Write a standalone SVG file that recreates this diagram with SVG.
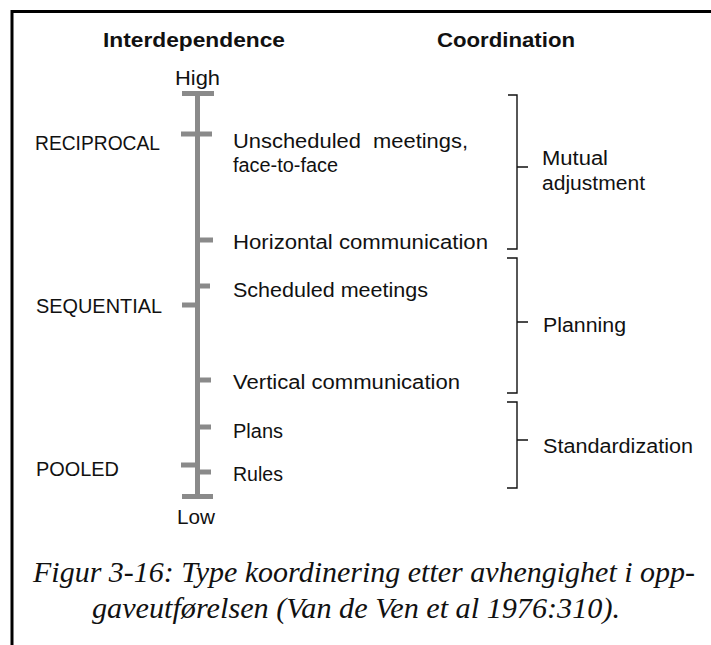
<svg xmlns="http://www.w3.org/2000/svg" width="711" height="645" viewBox="0 0 711 645">
<style>
.lbl{font-family:"Liberation Sans",Arial,sans-serif;font-size:20px;fill:#111}
.hdr{font-family:"Liberation Sans",Arial,sans-serif;font-size:20px;font-weight:bold;fill:#111}
.cap{font-family:"Liberation Serif","Times New Roman",serif;font-size:30px;font-style:italic;fill:#111}
.axis{stroke:#8a8a8a;stroke-width:5;fill:none}
.br{stroke:#111;stroke-width:1.4;fill:none}
</style>
<rect width="711" height="645" fill="#fff"/>
<path d="M12,645 V11.5 H711" stroke="#000" stroke-width="3" fill="none"/>
<g id="headers">
<text class="hdr" x="103" y="47" textLength="182" lengthAdjust="spacingAndGlyphs">Interdependence</text>
<text class="hdr" x="437" y="47" textLength="138" lengthAdjust="spacingAndGlyphs">Coordination</text>
</g>
<g id="axis">
<path class="axis" d="M197.5,93.5 V496.5 M182,93.5 H214 M182,496.5 H213 M181,134 H212 M197.5,240 H213 M197.5,286 H210 M182,305 H197.5 M197.5,380 H211 M197.5,427 H211 M181,465 H197.5 M197.5,472 H211"/>
<text class="lbl" x="175" y="85" textLength="45" lengthAdjust="spacingAndGlyphs">High</text>
<text class="lbl" x="177" y="524" textLength="38" lengthAdjust="spacingAndGlyphs">Low</text>
</g>
<g id="reciprocal"><text class="lbl" x="35" y="150" textLength="125" lengthAdjust="spacingAndGlyphs">RECIPROCAL</text></g>
<g id="sequential"><text class="lbl" x="36" y="313" textLength="126" lengthAdjust="spacingAndGlyphs">SEQUENTIAL</text></g>
<g id="pooled"><text class="lbl" x="36" y="476" textLength="83" lengthAdjust="spacingAndGlyphs">POOLED</text></g>
<g id="unscheduled">
<text class="lbl" x="233" y="148" textLength="235" lengthAdjust="spacingAndGlyphs">Unscheduled&#160; meetings,</text>
<text class="lbl" x="233" y="172" textLength="105" lengthAdjust="spacingAndGlyphs">face-to-face</text>
</g>
<g id="horizontal"><text class="lbl" x="233" y="249" textLength="255" lengthAdjust="spacingAndGlyphs">Horizontal communication</text></g>
<g id="scheduled"><text class="lbl" x="233" y="297" textLength="195" lengthAdjust="spacingAndGlyphs">Scheduled meetings</text></g>
<g id="vertical"><text class="lbl" x="233" y="389" textLength="227" lengthAdjust="spacingAndGlyphs">Vertical communication</text></g>
<g id="plans"><text class="lbl" x="233" y="438" textLength="50" lengthAdjust="spacingAndGlyphs">Plans</text></g>
<g id="rules"><text class="lbl" x="233" y="481" textLength="50" lengthAdjust="spacingAndGlyphs">Rules</text></g>
<g id="connectors">
<path class="br" d="M508,95 H517 V249 H507 M517,167 H528"/>
<path class="br" d="M507,258 H517 V393 H507 M517,322 H528"/>
<path class="br" d="M507,402 H517 V488 H507 M517,440 H528"/>
</g>
<g id="mutual">
<text class="lbl" x="542" y="165" textLength="66" lengthAdjust="spacingAndGlyphs">Mutual</text>
<text class="lbl" x="542" y="190" textLength="103" lengthAdjust="spacingAndGlyphs">adjustment</text>
</g>
<g id="planning"><text class="lbl" x="543" y="332" textLength="83" lengthAdjust="spacingAndGlyphs">Planning</text></g>
<g id="standardization"><text class="lbl" x="543" y="453" textLength="150" lengthAdjust="spacingAndGlyphs">Standardization</text></g>
<g id="caption">
<text class="cap" x="33" y="582" textLength="662" lengthAdjust="spacingAndGlyphs">Figur 3-16: Type koordinering etter avhengighet i opp-</text>
<text class="cap" x="92" y="618" textLength="528" lengthAdjust="spacingAndGlyphs">gaveutførelsen (Van de Ven et al 1976:310).</text>
</g>
</svg>
